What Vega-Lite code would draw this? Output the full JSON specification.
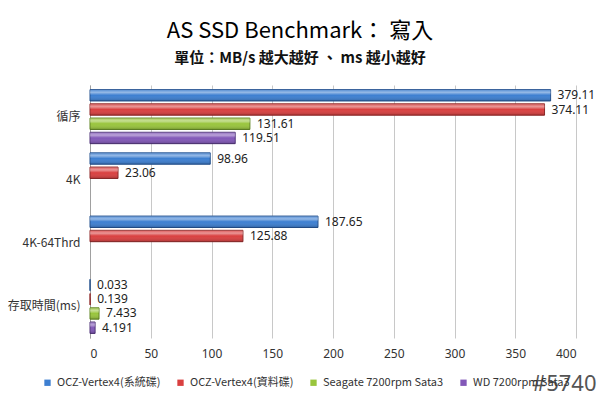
{
  "$schema": "https://vega.github.io/schema/vega-lite/v6.json",
  "width": 486,
  "height": 253,
  "autosize": {"type": "none"},
  "padding": {"left": 90, "top": 85, "right": 24, "bottom": 59},
  "background": "white",
  "config": {
    "view": {"stroke": null},
    "font": "Noto Sans CJK TC"
  },
  "title": {
    "text": "AS SSD Benchmark： 寫入",
    "subtitle": "單位：MB/s 越大越好 、 ms 越小越好",
    "anchor": "middle",
    "dx": -33,
    "offset": 18,
    "fontSize": 22,
    "fontWeight": "normal",
    "color": "#000000",
    "subtitleFontSize": 15,
    "subtitleFontWeight": "bold",
    "subtitleColor": "#111111",
    "subtitlePadding": 8
  },
  "data": {
    "values": [
      {"group": "循序", "series": "OCZ-Vertex4(系統碟)", "value": 379.11},
      {"group": "循序", "series": "OCZ-Vertex4(資料碟)", "value": 374.11},
      {"group": "循序", "series": "Seagate 7200rpm Sata3", "value": 131.61},
      {"group": "循序", "series": "WD 7200rpm Sata3", "value": 119.51},
      {"group": "4K", "series": "OCZ-Vertex4(系統碟)", "value": 98.96},
      {"group": "4K", "series": "OCZ-Vertex4(資料碟)", "value": 23.06},
      {"group": "4K-64Thrd", "series": "OCZ-Vertex4(系統碟)", "value": 187.65},
      {"group": "4K-64Thrd", "series": "OCZ-Vertex4(資料碟)", "value": 125.88},
      {"group": "存取時間(ms)", "series": "OCZ-Vertex4(系統碟)", "value": 0.033},
      {"group": "存取時間(ms)", "series": "OCZ-Vertex4(資料碟)", "value": 0.139},
      {"group": "存取時間(ms)", "series": "Seagate 7200rpm Sata3", "value": 7.433},
      {"group": "存取時間(ms)", "series": "WD 7200rpm Sata3", "value": 4.191}
    ]
  },
  "encoding": {
    "y": {
      "field": "group",
      "type": "nominal",
      "sort": ["循序", "4K", "4K-64Thrd", "存取時間(ms)"],
      "scale": {"paddingInner": 0.1, "paddingOuter": 0.05},
      "axis": {
        "title": null,
        "ticks": false,
        "domainColor": "#a0a0a0",
        "labelFontSize": 12,
        "labelColor": "#333333",
        "labelPadding": 10
      }
    },
    "yOffset": {
      "field": "series",
      "type": "nominal",
      "sort": ["OCZ-Vertex4(系統碟)", "OCZ-Vertex4(資料碟)", "Seagate 7200rpm Sata3", "WD 7200rpm Sata3"],
      "scale": {"paddingInner": 0.2, "paddingOuter": 0.1}
    },
    "x": {
      "field": "value",
      "type": "quantitative",
      "scale": {"domain": [0, 400], "nice": false},
      "axis": {
        "values": [0, 50, 100, 150, 200, 250, 300, 350, 400],
        "domain": false,
        "ticks": false,
        "gridColor": "#c8c8c8",
        "labelFontSize": 12,
        "labelColor": "#333333",
        "labelPadding": 10,
        "labelFont": "Noto Sans",
        "title": "#5740",
        "titleFont": "Noto Sans",
        "titleFontSize": 22,
        "titleFontWeight": "normal",
        "titleColor": "#555555",
        "titleAlign": "right",
        "titleBaseline": "middle",
        "titleAnchor": "start",
        "titleX": 506,
        "titleY": 45
      }
    }
  },
  "layer": [
    {
      "mark": {"type": "bar", "strokeWidth": 1},
      "encoding": {
        "color": {
          "field": "series",
          "type": "nominal",
          "sort": ["OCZ-Vertex4(系統碟)", "OCZ-Vertex4(資料碟)", "Seagate 7200rpm Sata3", "WD 7200rpm Sata3"],
          "scale": {
            "domain": ["OCZ-Vertex4(系統碟)", "OCZ-Vertex4(資料碟)", "Seagate 7200rpm Sata3", "WD 7200rpm Sata3"],
            "range": ["#3d7fd1", "#d94040", "#99c53d", "#8258b8"]
          },
          "legend": {
            "orient": "none",
            "direction": "horizontal",
            "legendX": -48,
            "legendY": 292,
            "title": null,
            "symbolType": "square",
            "symbolSize": 40,
            "symbolStrokeWidth": 0,
            "labelFontSize": 11,
            "labelColor": "#333333",
            "labelOffset": 4,
            "columnPadding": 14,
            "labelLimit": 200
          }
        },
        "stroke": {
          "field": "series",
          "type": "nominal",
          "scale": {
            "domain": ["OCZ-Vertex4(系統碟)", "OCZ-Vertex4(資料碟)", "Seagate 7200rpm Sata3", "WD 7200rpm Sata3"],
            "range": ["#22508e", "#8e2626", "#5f8420", "#4f3278"]
          },
          "legend": null
        }
      }
    },
    {
      "mark": {
        "type": "bar",
        "color": {
          "gradient": "linear",
          "x1": 0, "y1": 0, "x2": 0, "y2": 1,
          "stops": [
            {"offset": 0, "color": "rgba(255,255,255,0.15)"},
            {"offset": 0.25, "color": "rgba(255,255,255,0.45)"},
            {"offset": 0.5, "color": "rgba(255,255,255,0.0)"},
            {"offset": 1, "color": "rgba(0,0,0,0.2)"}
          ]
        }
      },
      "encoding": {}
    },
    {
      "mark": {"type": "text", "align": "left", "baseline": "middle", "dx": 7, "fontSize": 12, "color": "#222222", "font": "Noto Sans"},
      "encoding": {
        "text": {"field": "value", "type": "nominal"}
      }
    }
  ]
}
